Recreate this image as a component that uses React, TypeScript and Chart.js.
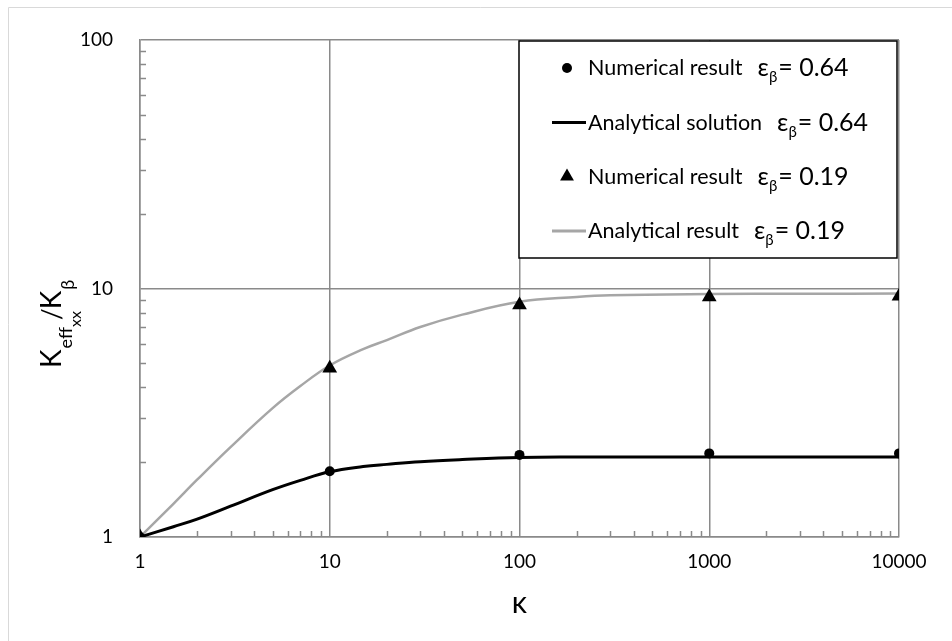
import React, { useEffect, useRef } from 'react';
import { Chart, registerables } from 'chart.js';

Chart.register(...registerables);

// ---- data ----
const kappaPoints = [1, 10, 100, 1000, 10000];
const numerical064 = [1, 1.84, 2.14, 2.17, 2.17];
const numerical019 = [1, 4.78, 8.58, 9.25, 9.31];

const analyticKappa = [1, 1.5, 2, 3, 5, 7, 10, 15, 20, 30, 50, 100, 200, 300, 1000, 3000, 10000];
const analytical064 = [1, 1.1, 1.18, 1.33, 1.55, 1.69, 1.83, 1.92, 1.96, 2.01, 2.05, 2.09, 2.1, 2.1, 2.1, 2.1, 2.1];
const analytical019 = [1, 1.36, 1.7, 2.3, 3.3, 4.05, 4.9, 5.7, 6.2, 7.0, 7.85, 8.84, 9.25, 9.4, 9.5, 9.52, 9.55];

const xTickLabels = ['1', '10', '100', '1000', '10000'];
const yTickLabels = ['1', '10', '100'];
const minorMultipliers = [2, 3, 4, 5, 6, 7, 8, 9];

const legendNames = ['Numerical result', 'Analytical solution', 'Numerical result', 'Analytical result'];
const legendEps = ['0.64', '0.64', '0.19', '0.19'];

const xTitle = 'κ';

const FONT = 'Lato, "Open Sans", sans-serif';
const GRID = '#8a8a8a';
const GRAY_LINE = '#a6a6a6';

const pts = (xs: number[], ys: number[]) => xs.map((x, i) => ({ x, y: ys[i] }));

const minorTicksPlugin = {
  id: 'minorTicks',
  beforeDatasetsDraw(chart: any) {
    const { ctx, chartArea, scales } = chart;
    const xs = scales.x;
    const ys = scales.y;
    ctx.save();
    ctx.strokeStyle = GRID;
    ctx.lineWidth = 1.5;
    const xDecades = xTickLabels.slice(0, -1).map(Number);
    xDecades.forEach((d) => {
      minorMultipliers.forEach((m) => {
        const px = Math.round(xs.getPixelForValue(d * m)) + 0.5;
        ctx.beginPath();
        ctx.moveTo(px, chartArea.bottom);
        ctx.lineTo(px, chartArea.bottom - 6);
        ctx.stroke();
      });
    });
    const yDecades = yTickLabels.slice(0, -1).map(Number);
    yDecades.forEach((d) => {
      minorMultipliers.forEach((m) => {
        const py = Math.round(ys.getPixelForValue(d * m)) + 0.5;
        ctx.beginPath();
        ctx.moveTo(chartArea.left, py);
        ctx.lineTo(chartArea.left + 6, py);
        ctx.stroke();
      });
    });
    ctx.restore();
  },
};

const decorPlugin = {
  id: 'decor',
  afterDraw(chart: any) {
    const { ctx, chartArea } = chart;
    ctx.save();
    // outer light frame
    ctx.strokeStyle = '#d9d9d9';
    ctx.lineWidth = 1;
    ctx.beginPath();
    ctx.moveTo(8.5, 641);
    ctx.lineTo(8.5, 7.5);
    ctx.lineTo(952, 7.5);
    ctx.stroke();

    // x title
    ctx.fillStyle = '#000';
    ctx.font = `30px ${FONT}`;
    ctx.textAlign = 'center';
    ctx.textBaseline = 'alphabetic';
    ctx.fillText(xTitle, (chartArea.left + chartArea.right) / 2, 613);

    // y title (rotated)
    ctx.save();
    ctx.translate(61, 368);
    ctx.rotate(-Math.PI / 2);
    ctx.textAlign = 'left';
    let x = 0;
    const put = (t: string, size: number, dy: number, adv = 0) => {
      ctx.font = `${size}px ${FONT}`;
      ctx.fillText(t, x, dy);
      x += ctx.measureText(t).width + adv;
    };
    put('K', 28, 0, 1);
    put('eff', 18, 11);
    put('xx', 16, 20, -9);
    put('/', 26, 0, -1);
    put('K', 28, 0, 1);
    put('β', 18, 13);
    ctx.restore();

    // legend box
    const bx = 519, by = 41, bw = 378, bh = 217;
    ctx.fillStyle = '#fff';
    ctx.fillRect(bx, by, bw, bh);
    ctx.strokeStyle = '#000';
    ctx.lineWidth = 1.5;
    ctx.strokeRect(bx, by, bw, bh);

    const rowY = [68, 122.5, 176.5, 231];
    const textX = 588;
    rowY.forEach((cy, i) => {
      ctx.fillStyle = '#000';
      if (i === 0) {
        ctx.beginPath();
        ctx.arc(567, cy, 5, 0, Math.PI * 2);
        ctx.fill();
      } else if (i === 2) {
        const r = 8;
        ctx.beginPath();
        ctx.moveTo(567, cy - r);
        ctx.lineTo(567 + r * 0.866, cy + r / 2);
        ctx.lineTo(567 - r * 0.866, cy + r / 2);
        ctx.closePath();
        ctx.fill();
      } else {
        ctx.strokeStyle = i === 1 ? '#000' : GRAY_LINE;
        ctx.lineWidth = 3;
        ctx.beginPath();
        ctx.moveTo(552, cy);
        ctx.lineTo(586, cy);
        ctx.stroke();
      }
      ctx.fillStyle = '#000';
      ctx.textAlign = 'left';
      ctx.font = `21.5px ${FONT}`;
      const base = cy + 7;
      ctx.fillText(legendNames[i], textX, base);
      let ex = textX + ctx.measureText(legendNames[i]).width + 15;
      ctx.font = `25px ${FONT}`;
      ctx.fillText('ε', ex, base + 1);
      ex += ctx.measureText('ε').width;
      ctx.font = `15px ${FONT}`;
      ctx.fillText('β', ex, base + 7);
      ex += ctx.measureText('β').width + 1;
      ctx.font = `25px ${FONT}`;
      ctx.fillText('= ' + legendEps[i], ex, base + 1);
    });
    ctx.restore();
  },
};

export default function App() {
  const ref = useRef<HTMLCanvasElement>(null);

  useEffect(() => {
    const canvas = ref.current;
    if (!canvas) return;
    const chart = new Chart(canvas, {
      type: 'line',
      data: {
        datasets: [
          {
            label: 'Numerical result εβ = 0.64',
            data: pts(kappaPoints, numerical064),
            showLine: false,
            pointStyle: 'circle',
            pointRadius: 5,
            pointBackgroundColor: '#000',
            pointBorderColor: '#000',
            pointBorderWidth: 0,
          },
          {
            label: 'Numerical result εβ = 0.19',
            data: pts(kappaPoints, numerical019),
            showLine: false,
            pointStyle: 'triangle',
            pointRadius: 8.5,
            pointBackgroundColor: '#000',
            pointBorderColor: '#000',
            pointBorderWidth: 0,
          },
          {
            label: 'Analytical solution εβ = 0.64',
            data: pts(analyticKappa, analytical064),
            borderColor: '#000',
            borderWidth: 3,
            pointRadius: 0,
            tension: 0.4,
            fill: false,
          },
          {
            label: 'Analytical result εβ = 0.19',
            data: pts(analyticKappa, analytical019),
            borderColor: GRAY_LINE,
            borderWidth: 2.5,
            pointRadius: 0,
            tension: 0.4,
            fill: false,
          },
        ],
      } as any,
      options: {
        animation: false,
        responsive: false,
        devicePixelRatio: 1,
        events: [],
        layout: { padding: { top: 40, right: 53, left: 0, bottom: 0 } },
        plugins: { legend: { display: false }, tooltip: { enabled: false } },
        scales: {
          x: {
            type: 'logarithmic',
            min: 1,
            max: 10000,
            afterBuildTicks: (scale: any) => {
              scale.ticks = xTickLabels.map((v) => ({ value: Number(v) }));
            },
            afterFit: (scale: any) => {
              scale.height = 104;
            },
            grid: { color: GRID, lineWidth: 1.5, drawTicks: false },
            border: { color: GRID, width: 1.5 },
            ticks: {
              autoSkip: false,
              maxRotation: 0,
              padding: 13,
              color: '#000',
              font: { family: FONT, size: 19 },
              callback: (v: any) => xTickLabels.find((l) => Number(l) === Number(v)) ?? '',
            },
          },
          y: {
            type: 'logarithmic',
            min: 1,
            max: 100,
            afterBuildTicks: (scale: any) => {
              scale.ticks = yTickLabels.map((v) => ({ value: Number(v) }));
            },
            afterFit: (scale: any) => {
              scale.width = 140;
            },
            grid: { color: GRID, lineWidth: 1.5, drawTicks: false },
            border: { color: GRID, width: 1.5 },
            ticks: {
              autoSkip: false,
              padding: 27,
              color: '#000',
              font: { family: FONT, size: 19 },
              callback: (v: any) => yTickLabels.find((l) => Number(l) === Number(v)) ?? '',
            },
          },
        },
      } as any,
      plugins: [minorTicksPlugin, decorPlugin],
    });
    return () => chart.destroy();
  }, []);

  return (
    <div style={{ position: 'fixed', left: 0, top: 0, width: 952, height: 641, background: '#fff' }}>
      <canvas ref={ref} width={952} height={641} style={{ display: 'block', width: 952, height: 641 }} />
    </div>
  );
}
